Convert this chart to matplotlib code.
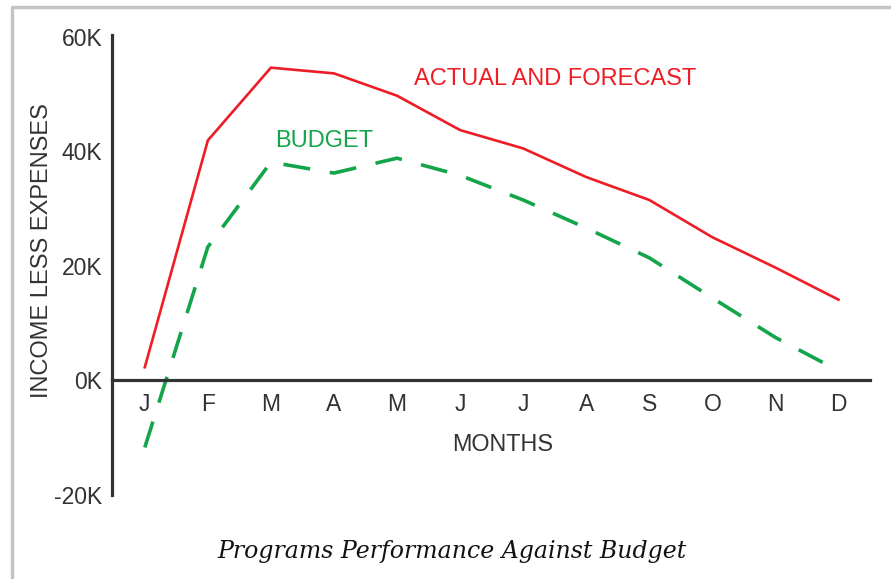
import matplotlib
matplotlib.use("Agg")
import matplotlib.pyplot as plt
from matplotlib.lines import Line2D

# months along the bottom
months = ["J", "F", "M", "A", "M", "J", "J", "A", "S", "O", "N", "D"]

# income less expenses, in thousands
actual = [2.3, 41.9, 54.6, 53.6, 49.7, 43.7, 40.5, 35.5, 31.5, 25.0, 19.7, 14.1]
budget = [-11.7, 23.3, 38.1, 36.2, 38.8, 35.8, 31.5, 26.6, 21.4, 14.4, 7.5, 1.7]

yticks = [-20, 0, 20, 40, 60]
ytick_labels = ["-20K", "0K", "20K", "40K", "60K"]

W, H = 891, 579
fig = plt.figure(figsize=(W / 100, H / 100), dpi=100)

def fx(px):
    return px / W

def fy(py):
    return 1 - py / H

# axes box: y axis line at x=112, x axis runs to x=870, y from 35 to 495
ax = fig.add_axes([fx(112), fy(495), fx(870) - fx(112), fy(35) - fy(495)])

red = "#ee1c25"
green = "#14a54b"
ink = "#333333"

x = list(range(len(months)))
ax.plot(x, actual, color=red, lw=1.9, solid_joinstyle="round")
ax.plot(x, budget, color=green, lw=2.6, dashes=(7.5, 5.5), dash_capstyle="butt")

ax.set_xlim(-0.52, 11.5)
ax.set_ylim(-20, 60.3)

ax.spines["top"].set_visible(False)
ax.spines["right"].set_visible(False)
ax.spines["bottom"].set_position(("data", 0))
ax.spines["left"].set_color(ink)
ax.spines["bottom"].set_color(ink)
ax.spines["left"].set_linewidth(2.3)
ax.spines["bottom"].set_linewidth(2.3)

ax.set_xticks(x)
ax.set_xticklabels(months)
ax.set_yticks(yticks)
ax.set_yticklabels(ytick_labels)
ax.tick_params(axis="both", length=0, labelsize=16.5, labelcolor=ink)
ax.tick_params(axis="x", pad=9)
ax.tick_params(axis="y", pad=7)
for lab in ax.get_xticklabels() + ax.get_yticklabels():
    lab.set_family("Liberation Sans")

sans = "Liberation Sans"
fig.text(fx(555), fy(85), "ACTUAL AND FORECAST", color=red, fontsize=17,
         family=sans, ha="center", va="baseline")
fig.text(fx(324), fy(147), "BUDGET", color=green, fontsize=17,
         family=sans, ha="center", va="baseline")
fig.text(fx(503), fy(451), "MONTHS", color=ink, fontsize=16.8,
         family=sans, ha="center", va="baseline")
fig.text(fx(42), fy(251), "INCOME LESS EXPENSES", color=ink, fontsize=17,
         family=sans, rotation=90, ha="center", va="center")

fig.text(fx(452), fy(558), "Programs Performance Against Budget", color="#111111",
         fontsize=17, family="DejaVu Serif", style="italic",
         ha="center", va="baseline")

# grey frame (left and top edges only)
frame = Line2D([fx(12), fx(12), 1.0], [0.0, fy(7), fy(7)], transform=fig.transFigure,
               color="#c4c4c4", lw=2.5)
fig.add_artist(frame)

fig.savefig("out.png", dpi=100, facecolor="white")
